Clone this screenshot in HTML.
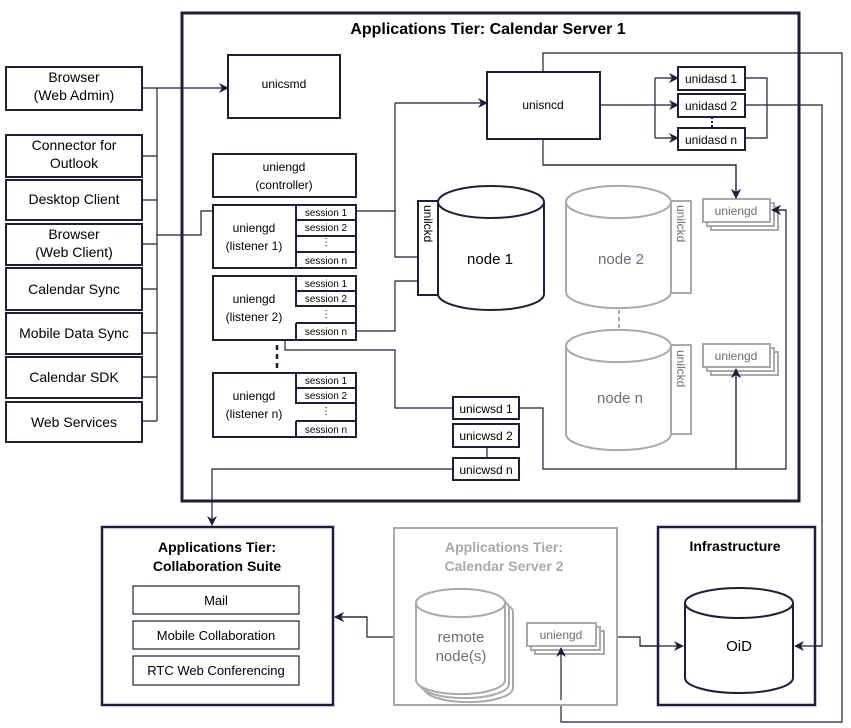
<!DOCTYPE html>
<html><head><meta charset="utf-8"><style>body{margin:0;background:#fff}svg{display:block}text{font-family:"Liberation Sans",sans-serif;}</style></head><body>
<svg width="851" height="728" viewBox="0 0 851 728" xmlns="http://www.w3.org/2000/svg">
<defs>
<marker id="a" markerWidth="10" markerHeight="10" refX="9" refY="5" orient="auto" markerUnits="userSpaceOnUse"><path d="M0,0 L10,5 L0,10 L3,5z" fill="#1e1e3c"/></marker>
</defs>
<g fill="none" stroke="#1e1e3c" stroke-width="1.2">
<!-- left bus -->
<path d="M142,88 H228" marker-end="url(#a)"/>
<path d="M142,156 H157 M142,200 H157 M142,244 H157 M142,289 H157 M142,333 H157 M142,377 H157 M142,421 H157 M157,88 V421"/>
<path d="M157,235 H201 V211 H296" marker-end="url(#a)"/>
<!-- session lines -->
<path d="M356,211 H395 M395,103 V257 H436" marker-end="url(#a)"/>
<path d="M395,103 H487" marker-end="url(#a)"/>
<path d="M356,331 H395 V281 H436" marker-end="url(#a)"/>
<path d="M453,408 H395 V350 H285 V331 H296" marker-end="url(#a)"/>
<!-- unisncd -->
<path d="M600,105 H678" marker-end="url(#a)"/>
<path d="M655,78 V138"/>
<path d="M655,78 H678" marker-end="url(#a)"/>
<path d="M655,138 H678" marker-end="url(#a)"/>
<path d="M745,78 H767 V138 H745"/>
<path d="M745,105 H822 V646 H795" marker-end="url(#a)"/>
<path d="M543,72 V53 H842 V722 H561 V648" marker-end="url(#a)"/>
<path d="M543,139 V165 H736 V198" marker-end="url(#a)"/>
<path d="M519,408 H543 V469 H786 V210 H772" marker-end="url(#a)"/>
<path d="M736,469 V369" marker-end="url(#a)"/>
<path d="M487,447 V458"/>
<path d="M453,469 H212 V525" marker-end="url(#a)"/>
<path d="M394,637 H367 V617 H335" marker-end="url(#a)"/>
<path d="M617,637 H640 V646 H683" marker-end="url(#a)"/>
</g>
<g fill="none" stroke="#1e1e3c" stroke-width="2.5" stroke-dasharray="5,4"><path d="M277,345 V370"/></g>
<!-- main box -->
<rect x="182" y="13" width="617" height="488" fill="none" stroke="#1e1e3c" stroke-width="3"/>
<text x="488" y="34" font-size="16" font-weight="bold" text-anchor="middle" fill="#000">Applications Tier: Calendar Server 1</text>
<!-- clients -->
<g fill="#fff" stroke="#1e1e3c" stroke-width="2">
<rect x="6" y="67" width="136" height="43"/><rect x="6" y="135" width="136" height="42"/><rect x="6" y="180" width="136" height="40"/><rect x="6" y="224" width="136" height="41"/><rect x="6" y="268" width="136" height="42"/><rect x="6" y="313" width="136" height="41"/><rect x="6" y="357" width="136" height="41"/><rect x="6" y="402" width="136" height="40"/>
</g>
<g font-size="14" text-anchor="middle" fill="#000">
<text x="74" y="82">Browser</text><text x="74" y="100">(Web Admin)</text>
<text x="74" y="150">Connector for</text><text x="74" y="168">Outlook</text>
<text x="74" y="204">Desktop Client</text>
<text x="74" y="239">Browser</text><text x="74" y="257">(Web Client)</text>
<text x="74" y="294">Calendar Sync</text>
<text x="74" y="338">Mobile Data Sync</text>
<text x="74" y="382">Calendar SDK</text>
<text x="74" y="427">Web Services</text>
</g>
<!-- uniengd boxes -->
<g fill="#fff" stroke="#1e1e3c" stroke-width="2">
<rect x="213" y="154" width="143" height="43"/>
<rect x="213" y="205" width="143" height="63"/>
<rect x="213" y="276" width="143" height="64"/>
<rect x="213" y="373" width="143" height="64"/>
<rect x="228" y="55" width="112" height="63"/>
<rect x="487" y="72" width="113" height="67"/>
</g>
<g fill="none" stroke="#1e1e3c" stroke-width="2">
<path d="M296,205 V268 M296,220 H356 M296,236 H356 M296,252 H356"/>
<path d="M296,276 V291 H356 M296,291 V306 H356 M296,323 H356 V340 M296,323 V340"/>
<path d="M296,373 V388 H356 M296,388 V403 H356 M296,421 H356 M296,421 V437"/>
</g>
<g font-size="12" text-anchor="middle" fill="#000">
<text x="284" y="88">unicsmd</text>
<text x="284" y="171">uniengd</text><text x="284" y="189">(controller)</text>
<text x="254" y="232">uniengd</text><text x="254" y="250">(listener 1)</text>
<text x="254" y="303">uniengd</text><text x="254" y="321">(listener 2)</text>
<text x="254" y="400">uniengd</text><text x="254" y="418">(listener n)</text>
<text x="543" y="109">unisncd</text>
</g>
<g font-size="10" text-anchor="middle" fill="#000">
<text x="326" y="216">session 1</text><text x="326" y="231">session 2</text><text x="326" y="245">⋮</text><text x="326" y="264">session n</text>
<text x="326" y="287">session 1</text><text x="326" y="302">session 2</text><text x="326" y="317">⋮</text><text x="326" y="335">session n</text>
<text x="326" y="384">session 1</text><text x="326" y="399">session 2</text><text x="326" y="414">⋮</text><text x="326" y="433">session n</text>
</g>
<!-- unidasd -->
<g fill="#fff" stroke="#1e1e3c" stroke-width="2">
<rect x="678" y="67" width="67" height="23"/><rect x="678" y="94" width="67" height="23"/><rect x="678" y="128" width="67" height="22"/>
<rect x="453" y="397" width="66" height="22"/><rect x="453" y="424" width="66" height="23"/><rect x="453" y="458" width="66" height="22"/>
</g>
<path d="M712,117 V128" stroke="#1e1e3c" stroke-width="2" stroke-dasharray="2,2"/>
<g font-size="12" text-anchor="middle" fill="#000">
<text x="711" y="83">unidasd 1</text><text x="711" y="110">unidasd 2</text><text x="711" y="144">unidasd n</text>
<text x="486" y="413">unicwsd 1</text><text x="486" y="440">unicwsd 2</text><text x="486" y="474">unicwsd n</text>
</g>
<!-- node1 -->
<rect x="418" y="201" width="20" height="94" fill="#fff" stroke="#1e1e3c" stroke-width="2"/>
<text transform="translate(424,205) rotate(90)" font-size="12" fill="#000">unilckd</text>
<path d="M438,202 V294 A53,16 0 0 0 544,294 V202 A53,16 0 0 0 438,202 A53,16 0 0 0 544,202" fill="#fff" stroke="#1e1e3c" stroke-width="2"/>
<text x="490" y="264" font-size="15" text-anchor="middle" fill="#000">node 1</text>
<!-- gray nodes -->
<g stroke="#aaa" stroke-width="2" fill="#fff">
<rect x="671" y="201" width="20" height="92"/><rect x="671" y="345" width="20" height="89"/>
<path d="M566,202 V292 A52,16 0 0 0 671,292 V202 A52,16 0 0 0 566,202 A52,16 0 0 0 671,202"/>
<path d="M566,346 V434 A52,16 0 0 0 671,434 V346 A52,16 0 0 0 566,346 A52,16 0 0 0 671,346"/>
<path d="M619,310 V330" stroke-dasharray="4,3" fill="none"/>
<rect x="711" y="207" width="67" height="23"/><rect x="707" y="203" width="67" height="23"/><rect x="703" y="199" width="67" height="23"/>
<rect x="711" y="352" width="67" height="23"/><rect x="707" y="348" width="67" height="23"/><rect x="703" y="344" width="67" height="23"/>
</g>
<g fill="#736a7a">
<text transform="translate(677,205) rotate(90)" font-size="12">unilckd</text>
<text transform="translate(677,350) rotate(90)" font-size="12">unilckd</text>
<text x="621" y="264" font-size="15" text-anchor="middle">node 2</text>
<text x="620" y="403" font-size="15" text-anchor="middle">node n</text>
<text x="736" y="215" font-size="12" text-anchor="middle">uniengd</text>
<text x="736" y="360" font-size="12" text-anchor="middle">uniengd</text>
</g>
<!-- re-draw arrowheads on top -->
<g fill="none" stroke="#1e1e3c" stroke-width="1.2">
<path d="M543,165 H736 V198" marker-end="url(#a)"/>
<path d="M786,210 H772" marker-end="url(#a)"/>
<path d="M736,469 V369" marker-end="url(#a)"/>
</g>
<!-- collab suite -->
<rect x="102" y="527" width="231" height="178" fill="#fff" stroke="#1e1e3c" stroke-width="2.5"/>
<text x="217" y="552" font-size="14" font-weight="bold" text-anchor="middle">Applications Tier:</text>
<text x="217" y="571" font-size="14" font-weight="bold" text-anchor="middle">Collaboration Suite</text>
<g fill="#fff" stroke="#1e1e3c" stroke-width="1.2"><rect x="133" y="586" width="166" height="28"/><rect x="133" y="621" width="166" height="28"/><rect x="133" y="656" width="166" height="29"/></g>
<g font-size="13" text-anchor="middle"><text x="216" y="605">Mail</text><text x="216" y="640">Mobile Collaboration</text><text x="216" y="675">RTC Web Conferencing</text></g>
<!-- CS2 -->
<rect x="394" y="528" width="223" height="177" fill="#fff" stroke="#aaa" stroke-width="2"/>
<text x="504" y="552" font-size="14" font-weight="bold" text-anchor="middle" fill="#aaa">Applications Tier:</text>
<text x="504" y="571" font-size="14" font-weight="bold" text-anchor="middle" fill="#aaa">Calendar Server 2</text>
<g stroke="#aaa" stroke-width="2" fill="#fff">
<path d="M424,612 V688 A44,14 0 0 0 513,688 V612 A44,14 0 0 0 424,612z"/>
<path d="M420,608 V684 A44,14 0 0 0 509,684 V608 A44,14 0 0 0 420,608z"/>
<path d="M416,603 V680 A44,14 0 0 0 505,680 V603 A44,14 0 0 0 416,603 A44,14 0 0 0 505,603"/>
<rect x="535" y="631" width="69" height="23"/><rect x="531" y="627" width="69" height="23"/><rect x="527" y="623" width="69" height="23"/>
</g>
<g fill="#736a7a" text-anchor="middle"><text x="461" y="642" font-size="15">remote</text><text x="461" y="661" font-size="15">node(s)</text><text x="561" y="639" font-size="12">uniengd</text></g>
<!-- infrastructure -->
<rect x="658" y="527" width="157" height="178" fill="#fff" stroke="#1e1e3c" stroke-width="2.5"/>
<text x="735" y="551" font-size="14" font-weight="bold" text-anchor="middle">Infrastructure</text>
<path d="M685,603 V678 A54,15 0 0 0 793,678 V603 A54,15 0 0 0 685,603 A54,15 0 0 0 793,603" fill="#fff" stroke="#1e1e3c" stroke-width="2"/>
<text x="739" y="651" font-size="15" text-anchor="middle">OiD</text>
<g fill="none" stroke="#1e1e3c" stroke-width="1.2">
<path d="M640,646 H683" marker-end="url(#a)"/>
<path d="M822,646 H795" marker-end="url(#a)"/>
<path d="M561,700 V648" marker-end="url(#a)"/>
<path d="M367,617 H335" marker-end="url(#a)"/>
</g>
</svg>
</body></html>
